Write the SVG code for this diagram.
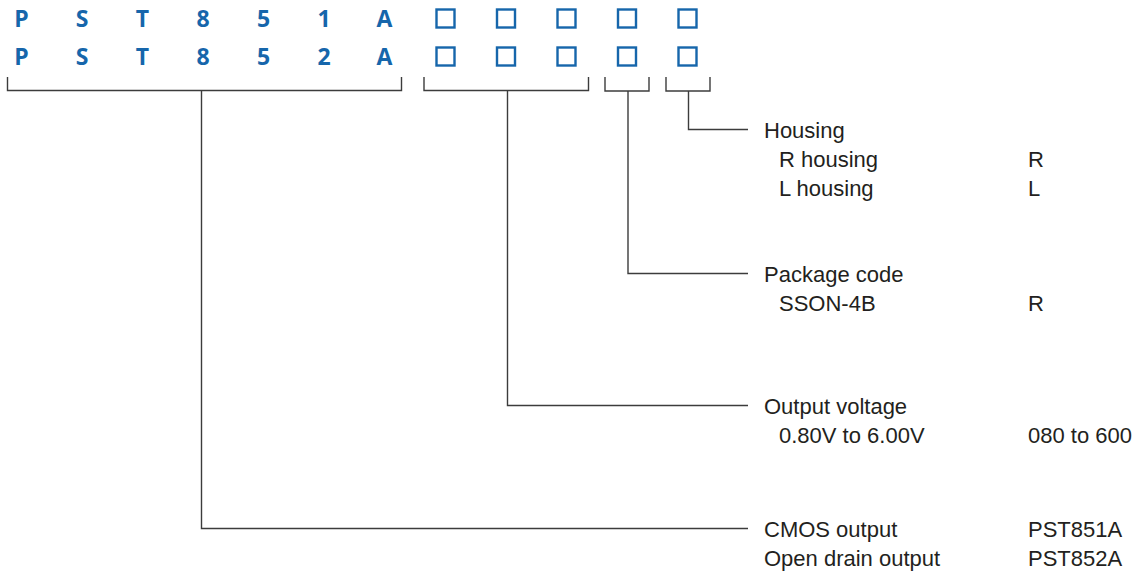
<svg xmlns="http://www.w3.org/2000/svg" width="1141" height="574" viewBox="0 0 1141 574">
<style>
.code{font-family:"Open Sans","Liberation Sans",sans-serif;font-weight:700;font-size:23px;fill:#1666ab;text-anchor:middle}
.box{fill:none;stroke:#1666ab;stroke-width:2.4}
.ln{fill:none;stroke:#3c3c3c;stroke-width:1.4}
.t{font-family:"Liberation Sans",Arial,sans-serif;font-size:22px;fill:#231f20}
</style>
<rect width="1141" height="574" fill="#ffffff"/>
<g id="code-row1">
<text class="code" x="21.5" y="27">P</text>
<text class="code" x="82" y="27">S</text>
<text class="code" x="142.5" y="27">T</text>
<text class="code" x="203" y="27">8</text>
<text class="code" x="263.5" y="27">5</text>
<text class="code" x="324" y="27">1</text>
<text class="code" x="384.5" y="27">A</text>
<rect class="box" x="436.5" y="9.5" width="18" height="18"/>
<rect class="box" x="497" y="9.5" width="18" height="18"/>
<rect class="box" x="557.5" y="9.5" width="18" height="18"/>
<rect class="box" x="618" y="9.5" width="18" height="18"/>
<rect class="box" x="678.5" y="9.5" width="18" height="18"/>
</g>
<g id="code-row2">
<text class="code" x="21.5" y="65">P</text>
<text class="code" x="82" y="65">S</text>
<text class="code" x="142.5" y="65">T</text>
<text class="code" x="203" y="65">8</text>
<text class="code" x="263.5" y="65">5</text>
<text class="code" x="324" y="65">2</text>
<text class="code" x="384.5" y="65">A</text>
<rect class="box" x="436.5" y="47.5" width="18" height="18"/>
<rect class="box" x="497" y="47.5" width="18" height="18"/>
<rect class="box" x="557.5" y="47.5" width="18" height="18"/>
<rect class="box" x="618" y="47.5" width="18" height="18"/>
<rect class="box" x="678.5" y="47.5" width="18" height="18"/>
</g>
<g id="connectors">
<path class="ln" d="M7.5 77V90.5H401.5V77M201.5 90.5V528.5H748"/>
<path class="ln" d="M424 77V90.5H588.5V77M507.5 90.5V405.5H748"/>
<path class="ln" d="M605 77V91H649V77M628 91V273.5H748"/>
<path class="ln" d="M666 77V91H710V77M688.5 91V129.5H748"/>
</g>
<g id="housing">
<text class="t" x="764" y="138">Housing</text>
<text class="t" x="779" y="167">R housing</text>
<text class="t" x="1028" y="167">R</text>
<text class="t" x="779" y="196">L housing</text>
<text class="t" x="1028" y="196">L</text>
</g>
<g id="package-code">
<text class="t" x="764" y="282">Package code</text>
<text class="t" x="779" y="311">SSON-4B</text>
<text class="t" x="1028" y="311">R</text>
</g>
<g id="output-voltage">
<text class="t" x="764" y="414">Output voltage</text>
<text class="t" x="779" y="443">0.80V to 6.00V</text>
<text class="t" x="1028" y="443">080 to 600</text>
</g>
<g id="output-type">
<text class="t" x="764" y="537">CMOS output</text>
<text class="t" x="1028" y="537">PST851A</text>
<text class="t" x="764" y="566">Open drain output</text>
<text class="t" x="1028" y="566">PST852A</text>
</g>
</svg>
